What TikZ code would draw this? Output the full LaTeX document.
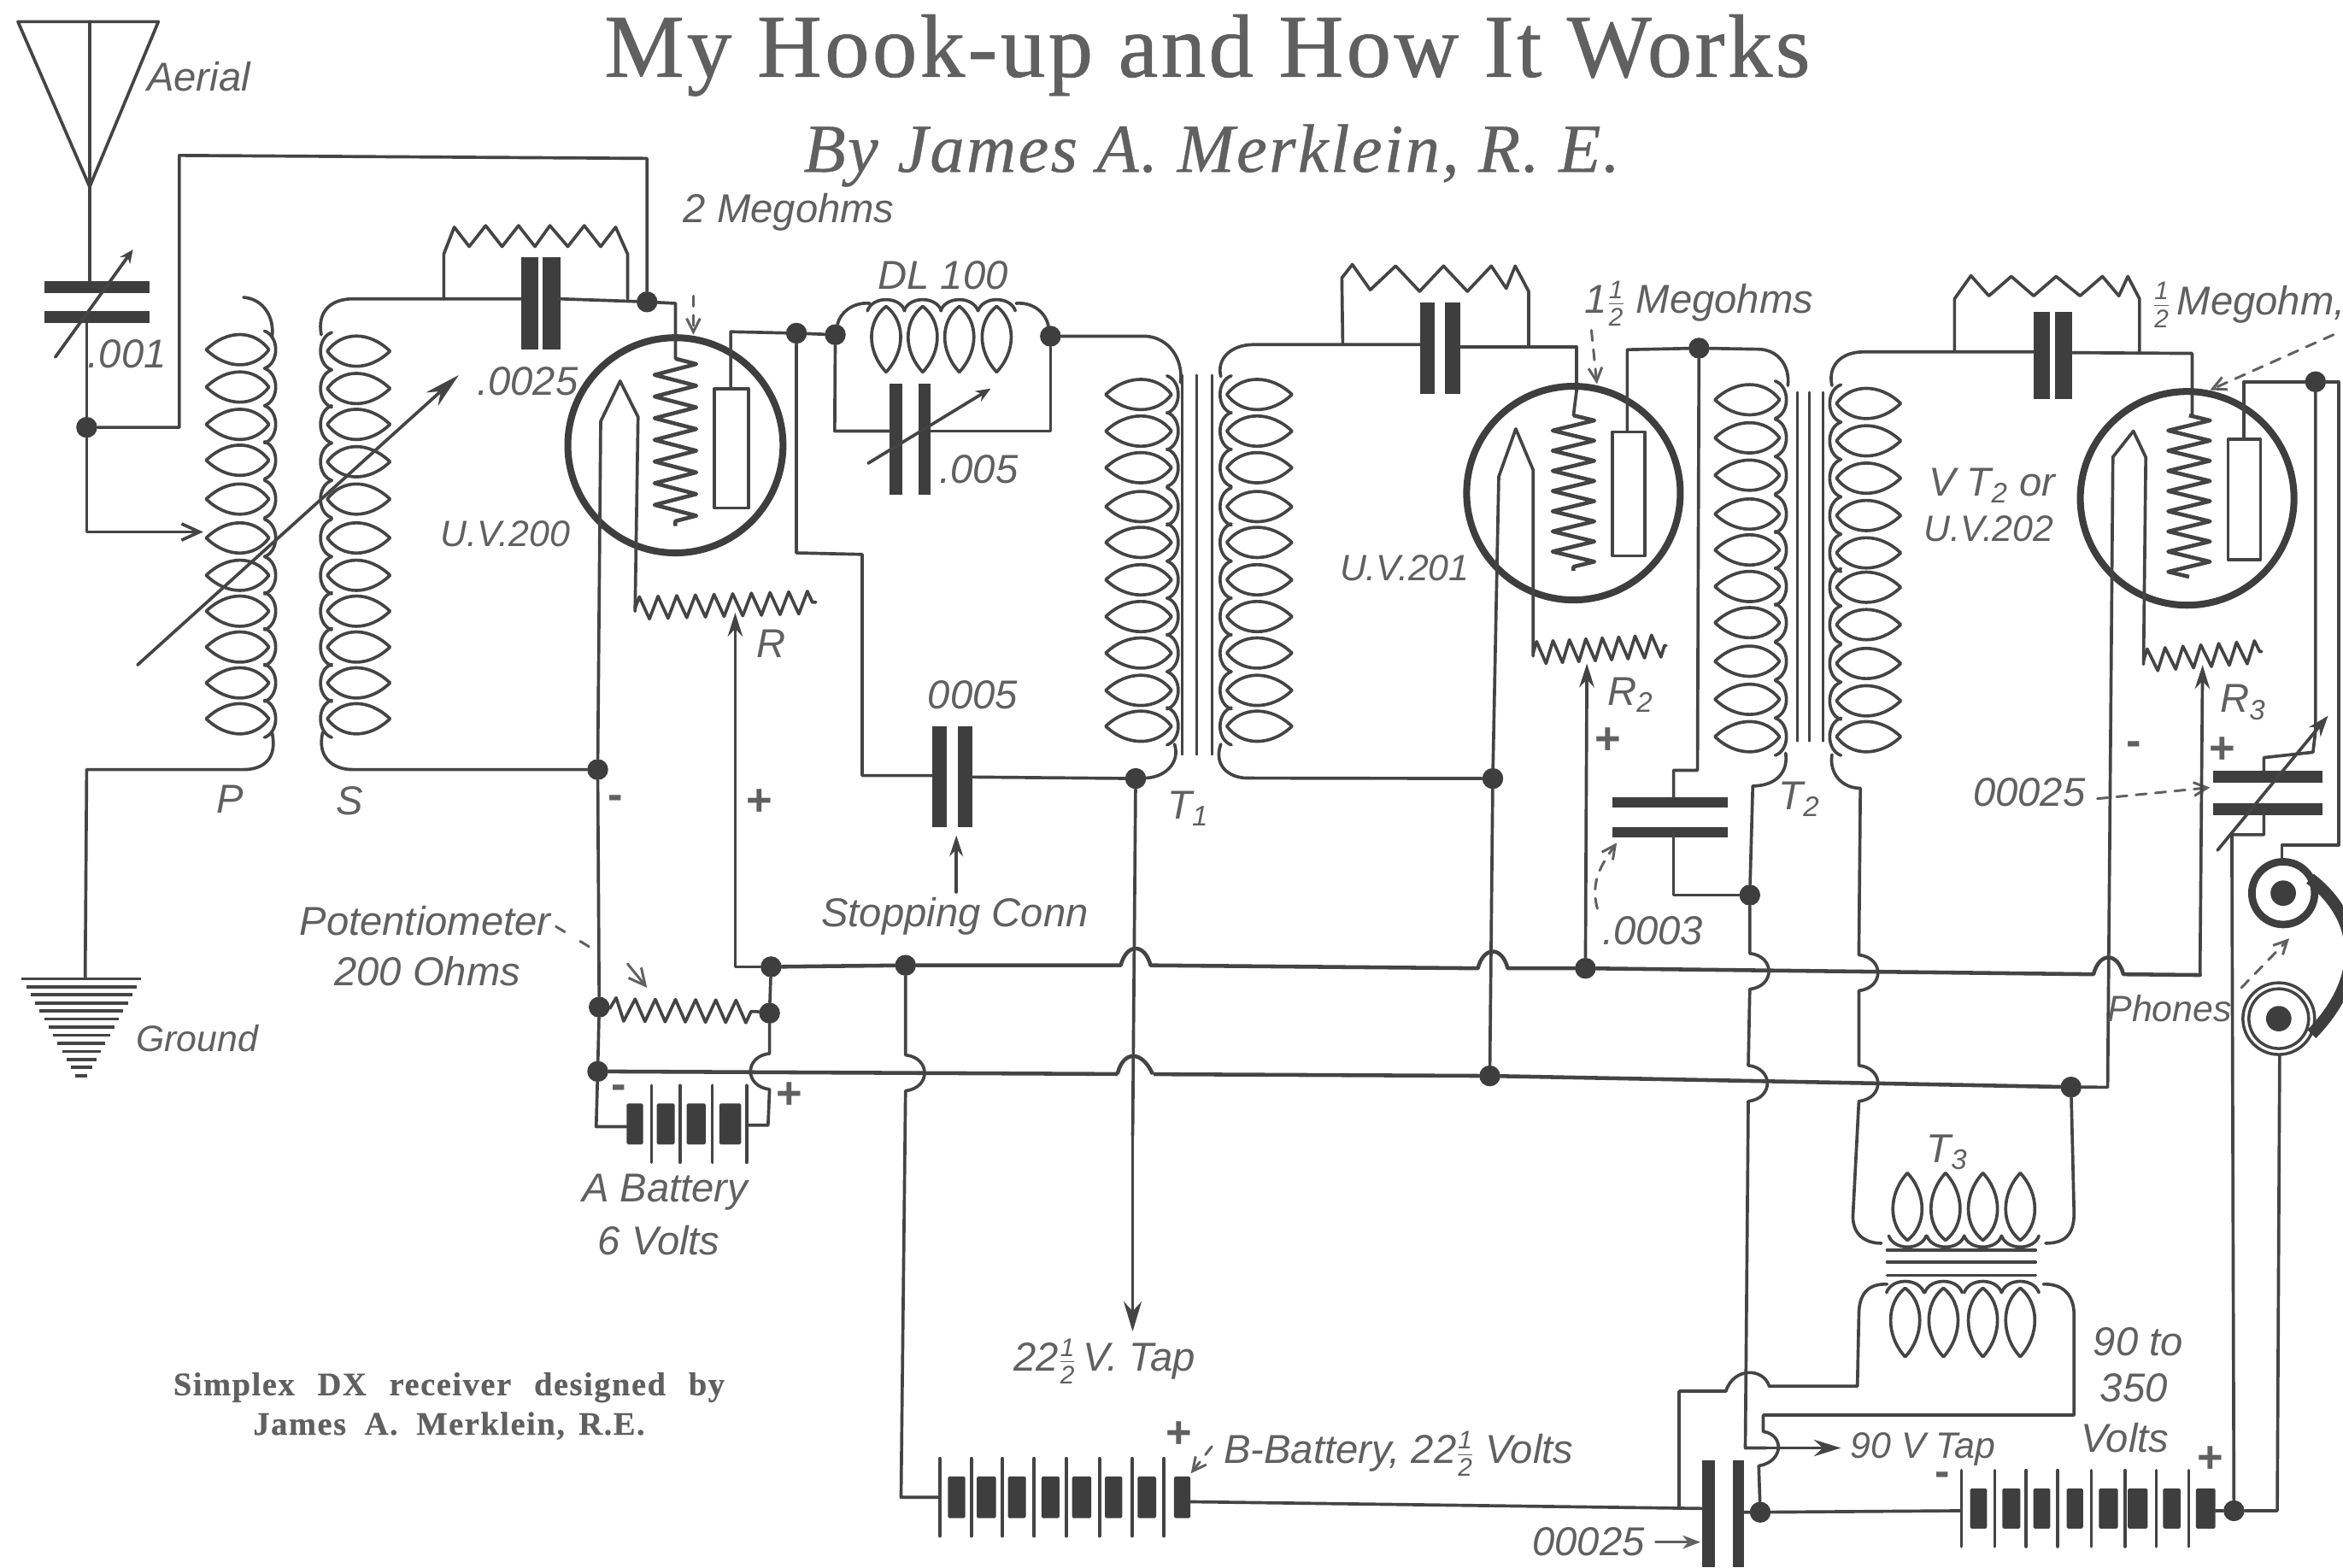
\documentclass[tikz,border=0pt]{standalone}
\usepackage{fontspec}
\usepackage{graphicx}
\setmainfont{Liberation Serif}
\newfontfamily\handfont{Liberation Sans}
\newfontfamily\titlefont[LetterSpace=3.2,FakeBold=0.7]{Liberation Serif}
\newfontfamily\bylinefont[LetterSpace=3,FakeBold=0.5]{Liberation Serif}
\newfontfamily\capfont[LetterSpace=4,FakeBold=0.4]{Liberation Serif}
\usetikzlibrary{arrows.meta,decorations.pathmorphing,calc}
\definecolor{ink}{HTML}{444444}
\definecolor{txt}{HTML}{606060}
\definecolor{dark}{HTML}{3E3E3E}
% half fraction in the hand lettering
\newcommand{\hf}{\ensuremath{\frac{\mbox{\fontsize{17}{17}\selectfont\handfont\itshape 1}}{\mbox{\fontsize{17}{17}\selectfont\handfont\itshape 2}}}}
% coil of lens-shaped turns, #1 x of tips, #2 x of scallop side, #3 list of y
\newcommand{\vturns}[3]{%
  \pgfmathsetmacro{\sgn}{(#2>#1)?1:-1}%
  \foreach \yy in {#3}{%
    \draw[wire] (#1,\yy) .. controls ({#1+14*\sgn},{\yy-13.5}) and ({#2-10*\sgn},{\yy-13.5}) .. (#2,\yy)
       .. controls ({#2-10*\sgn},{\yy+13.5}) and ({#1+14*\sgn},{\yy+13.5}) .. (#1,\yy);
    \draw[wire] ({#2-3*\sgn},{\yy-12.5}) .. controls ({#2+7*\sgn},{\yy-9}) and ({#2+7*\sgn},{\yy+9}) .. ({#2-3*\sgn},{\yy+12.5});
  }}
% horizontal variant, #1 y of tips, #2 y of scallop side, #3 list of x
\newcommand{\hturns}[3]{%
  \pgfmathsetmacro{\sgn}{(#2>#1)?1:-1}%
  \foreach \xx in {#3}{%
    \draw[wire] (\xx,#1) .. controls ({\xx-13},{#1+14*\sgn}) and ({\xx-13},{#2-10*\sgn}) .. (\xx,#2)
       .. controls ({\xx+13},{#2-10*\sgn}) and ({\xx+13},{#1+14*\sgn}) .. (\xx,#1);
    \draw[wire] ({\xx-12.5},{#2-3*\sgn}) .. controls ({\xx-9},{#2+7*\sgn}) and ({\xx+9},{#2+7*\sgn}) .. ({\xx+12.5},{#2-3*\sgn});
  }}
% hops used inside paths
\newcommand{\hopU}[2]{-- ({#1-10},{#2}) .. controls ({#1-6},{#2-15}) and ({#1+6},{#2-15}) .. ({#1+10},{#2})}
\newcommand{\hopR}[2]{-- (#1,{#2-12}) .. controls ({#1+17},{#2-10}) and ({#1+17},{#2+10}) .. (#1,{#2+12})}
\newcommand{\hopL}[2]{-- (#1,{#2-12}) .. controls ({#1-17},{#2-10}) and ({#1-17},{#2+10}) .. (#1,{#2+12})}
% battery: long lines and blocks
\newcommand{\cells}[4]{%
  \foreach \xa/\xb in {#4}{\fill[dark,rounded corners=1] (\xa,#1) rectangle (\xb,#2);}%
  \foreach \xa in {#3}{\draw[wire] (\xa,{#1-12}) -- (\xa,{#2+12});}}
\tikzset{
  wire/.style={draw=ink,line width=2.1,line join=round,line cap=round},
  rail/.style={draw=ink,line width=2.6,line join=round,line cap=round},
  fine/.style={draw=txt,line width=1.7,line cap=round},
  tube/.style={draw=dark,line width=4.6},
  plate/.style={fill=dark,draw=none},
  jdot/.style={circle,fill=dark,draw=none,inner sep=0,minimum size=14},
  hand/.style={font=\fontsize{27}{30}\selectfont\handfont\itshape,text=txt,inner sep=0,align=center},
  hands/.style={hand,font=\fontsize{24.5}{30}\selectfont\handfont\itshape},
  sym/.style={font=\fontsize{30}{30}\selectfont\handfont\bfseries,text=txt,inner sep=0},
  zz/.style={wire,decorate,decoration={zigzag,segment length=#1,amplitude=7.5}},
  gridzz/.style={draw=ink,line width=2.6,line join=round,decorate,decoration={zigzag,segment length=#1,amplitude=14}},
  dasharrow/.style={fine,dashed,dash pattern=on 7 off 6,-{Straight Barb[length=9,width=9]}},
  dashplain/.style={fine,dashed,dash pattern=on 7 off 12},
  tipa/.style={wire,-{Stealth[length=16,width=10]}},
}
\begin{document}
\begin{tikzpicture}[x=1pt,y=-1pt]
\useasboundingbox (0,0) rectangle (1568,1049);
\fill[white] (0,0) rectangle (1568,1049);

% titles
\node[text=txt,inner sep=0,font=\fontsize{60}{62}\titlefont] (title) at (808,37) {My Hook-up and How It Works};
\node[text=txt,inner sep=0,font=\fontsize{46}{48}\bylinefont\itshape] (byline) at (811,104) {By James A. Merklein, R. E.};
\node[text=txt,inner sep=0,align=center,font=\fontsize{22}{26.5}\capfont\bfseries] (caption) at (300.5,941) {Simplex\hspace{9pt} DX\hspace{9pt} receiver\hspace{9pt} designed\hspace{9pt} by\\[0pt]James\hspace{6pt} A.\hspace{6pt} Merklein,\hspace{3pt} R.E.};

% junction dots
\node[jdot] (jA) at (58,286) {};
\node[jdot] (jG) at (433,202) {};
\node[jdot] (jS) at (400,515) {};
\node[jdot] (jPa) at (401,674) {};
\node[jdot] (jPb) at (515,678) {};
\node[jdot] (jPc) at (400,717) {};
\node[jdot] (jRail) at (516,647) {};
\node[jdot] (jSup) at (606,646) {};
\node[jdot] (jB1) at (533,223) {};
\node[jdot] (jB2) at (559,224) {};
\node[jdot] (jB3) at (703,225) {};
\node[jdot] (jT1) at (760,521) {};
\node[jdot] (jT1b) at (999,521) {};
\node[jdot] (jLow) at (997,720) {};
\node[jdot] (jR2) at (1061,648) {};
\node[jdot] (jB4) at (1137,233) {};
\node[jdot] (jT2) at (1171,599) {};
\node[jdot] (jT3) at (1386,727.5) {};
\node[jdot] (jB5) at (1549.6,255.5) {};
\node[jdot] (jBat) at (1495,1011) {};
\node[jdot] (jCap) at (1178,1012) {};

% aerial
\coordinate (apex) at (60,125);
\draw[wire] (12,14.5) -- (106,14.5) -- (apex) -- cycle;
\draw[wire] (60,14.5) -- (apex) -- (60,192);
\fill[plate] (30,188) rectangle (100,196);
\fill[plate] (30,208) rectangle (100,216);
\draw[wire] (58,216) -- (jA);
\draw[wire,-{Stealth[length=9,width=8]}] (37,239) -- (89,167);
\draw[wire] (jA) -- (120,286) -- (120,104) -- (433,106) -- (jG);
\draw[wire,-{Straight Barb[length=12,width=11]}] (jA) -- (58,356) -- (136,356);

% P and S coils
\vturns{138}{180}{234,259,284,308,334,360,385,409,433,457,481}
\vturns{261}{219}{235,260,284,309,334,360,385,409,433,457,481}
\draw[wire] (163,199) .. controls (176,200) and (184,212) .. (182,226);
\draw[wire] (182,490) .. controls (186,508) and (176,515) .. (163,515) -- (58,515) -- (57,655);
\draw[wire] (215,224) .. controls (212,208) and (222,200) .. (236,200) -- (349,200);
\draw[wire] (216,490) .. controls (212,506) and (222,515) .. (236,515) -- (jS);
\draw[wire,-{Stealth[length=24,width=12]}] (92,445) -- (307,251);

% ground
\foreach \i in {0,...,12}{
  \pgfmathsetmacro{\gy}{655+\i*5.4}
  \pgfmathsetmacro{\gw}{40-\i*3}
  \draw[fine,draw=ink,line width=2.1,line cap=butt] ({54.5-\gw},\gy) -- ({54.5+\gw},\gy);
}

% grid leak + capacitor of first tube
\fill[plate] (349,172) rectangle (360,234);
\fill[plate] (363,172) rectangle (375,234);
\draw[wire] (375,200) -- (jG);
\draw[wire] (297,200) -- (297,170) -- (304,152) -- (314,165) -- (325,151) -- (336,165) -- (347,151) -- (358,165) -- (368,151) -- (380,165) -- (391,151) -- (402,165) -- (412,152) -- (420,170) -- (420,200);

% tube 1
\node[circle,tube,inner sep=0,minimum size=144] (tube1) at (452,298) {};
\draw[wire] (jG) -- (452,203) -- (452,240);
\draw[dasharrow] (464,198) -- (464,224);
\draw[gridzz=14.5] (452,240) -- (452,352);
\draw[wire] (jS) -- (402,282) -- (415,255) -- (427,279) -- (425,409);
\draw[zz=12.5] (425,407) -- (546,403);
\draw[wire,fill=white] (478,260) rectangle (501,340);
\draw[wire] (489,260) -- (489,222) -- (jB1);
\draw[wire] (jB1) -- (jB2);
\draw[tipa] (jRail) -- (492,647) -- (492,410);

% DL 100 coil and variable capacitor
\hturns{249}{205}{593,617.5,642,667}
\draw[wire] (jB2) .. controls (562,210) and (570,202) .. (582,203);
\draw[wire] (jB3) .. controls (700,210) and (692,202) .. (680,203);
\draw[wire] (jB2) -- (558.6,288.5) -- (595,288.5);
\draw[wire] (623,288.5) -- (703,288.5) -- (jB3);
\fill[plate] (595,257) rectangle (604,331);
\fill[plate] (614.5,257) rectangle (623,331);
\draw[wire,-{Stealth[length=10,width=8]}] (581,310) -- (663,260);

% stopping condenser path
\draw[wire] (jB1) -- (533,370) -- (577,371) -- (577,519) -- (624,519);
\fill[plate] (624,486) rectangle (633.5,553.6);
\fill[plate] (641,486) rectangle (650.5,553.6);
\draw[wire] (650.5,520) -- (jT1);
\draw[wire,-{Stealth[length=14,width=9]}] (640,597) -- (640,559);

% T1
\draw[wire] (jB3) -- (767,225) .. controls (782,226) and (792,240) .. (790,256);
\vturns{740}{784}{264,288.5,313,339,363,388,412.6,437,462,486}
\draw[wire] (786,498) .. controls (790,510) and (780,520) .. (jT1);
\foreach \xc in {791,801,811}{\draw[wire,line width=1.5] (\xc,251) -- (\xc,505);}
\vturns{864.6}{821}{264,288.5,313,339,363,388,412.6,437,462,486}
\draw[wire] (817,252) .. controls (814,240) and (824,230.6) .. (839,230.6) -- (950.6,230.6);
\draw[wire] (817,498) .. controls (812,512) and (822,520.7) .. (835,520.7) -- (jT1b);
\fill[plate] (950.6,202.5) rectangle (960,263.5);
\fill[plate] (967,202.5) rectangle (977,263.5);
\draw[wire] (977,232) -- (1055,232) -- (1055,262);
\draw[wire] (898.6,230) -- (898,186) -- (905,177) -- (917,194) -- (934,178) -- (950,195) -- (966,178) -- (982,195) -- (998,178) -- (1008,193) -- (1014,178) -- (1023,195) -- (1023,232);

% tube 2
\node[circle,tube,inner sep=0,minimum size=143] (tube2) at (1053,330) {};
\draw[gridzz=13.5] (1053,278) -- (1053,382);
\draw[wire] (1055,262) -- (1053,278);
\draw[wire] (jT1b) -- (1003,319) -- (1014.4,287) -- (1026,314.5) -- (1026,439);
\draw[zz=11] (1026,437) -- (1115,432);
\draw[wire,fill=white] (1079,289) rectangle (1100.6,372);
\draw[wire] (1089,289) -- (1089,234) -- (jB4);
\draw[wire] (jB4) -- (1177,233.7) .. controls (1190,234) and (1198,245) .. (1196.5,258);
\draw[tipa] (jR2) -- (1062,444);
\draw[dasharrow] (1065,221) -- (1068.7,257);

% T2
\vturns{1147.7}{1191}{267.5,293,318,344,368,392.5,416.7,442.5,468,493}
\draw[wire] (1195,504) .. controls (1197,518) and (1187,526) .. (1173,526) -- (jT2);
\foreach \xc in {1202.7,1211,1220}{\draw[wire,line width=1.5] (\xc,262.5) -- (\xc,496);}
\vturns{1272}{1229}{270,295,320,345,370,393,418,444,469,493}
\draw[wire] (1226,258) .. controls (1223,245) and (1232,235.5) .. (1247,235.5) -- (1360.7,235.5);
\draw[wire] (1226,505) .. controls (1224,518) and (1233,527.5) .. (1245,527.5) \hopR{1244}{651} \hopR{1244}{725} -- (1240,814) .. controls (1240,826) and (1248,832) .. (1259,832);
\draw[wire] (jB4) -- (1136,515.5) -- (1120,515.5) -- (1120,537);
\fill[plate] (1079,533.5) rectangle (1156,540.5);
\fill[plate] (1079,553.5) rectangle (1156,560.5);
\draw[wire] (1120,557) -- (1120,599) -- (jT2);
\draw[dasharrow] (1069,608) .. controls (1064,590) and (1072,578) .. (1082,564);
\draw[wire] (jT2) \hopR{1171}{650} \hopR{1170}{725} -- (1168,969) -- (1182,969);
\draw[wire,-{Stealth[length=18,width=11]}] (1182,969) -- (1232,969);

% tube 3
\fill[plate] (1360.7,208.7) rectangle (1372,267);
\fill[plate] (1375.5,208.7) rectangle (1386.5,267);
\draw[wire] (1386.5,236) -- (1467,236.5) -- (1467,278);
\draw[wire] (1308,235) -- (1308,200) -- (1319,184.5) -- (1331,198) -- (1346,185) -- (1361,198) -- (1376,185) -- (1392,198) -- (1407,185) -- (1418,198) -- (1424,185) -- (1431.8,200) -- (1431.8,236);
\node[circle,tube,inner sep=0,minimum size=143] (tube3) at (1463.7,333.5) {};
\draw[gridzz=13.5] (1465,278) -- (1465,386);
\draw[wire] (jT3) -- (1410.5,727.6) -- (1414,305.8) -- (1427.7,288.5) -- (1436,306) -- (1434.5,444.5);
\draw[zz=12] (1434.5,442) -- (1513.5,436);
\draw[wire,fill=white] (1491,294) rectangle (1512.8,374.4);
\draw[wire] (1501.5,294) -- (1501.5,255.5) -- (jB5) -- (1565,255.5) -- (1565,565.7) -- (1527,565.7) -- (1527,575);
\draw[wire] (jB5) -- (1549.6,489) -- (1547.9,503.4) -- (1515,507) -- (1515,520);
\fill[plate] (1481,516) rectangle (1554,524);
\fill[plate] (1481,537.5) rectangle (1554,545.5);
\draw[wire] (1515,541) -- (1515,558.6) -- (1493.6,558.6) -- (jBat);
\draw[wire,-{Stealth[length=14,width=10]}] (1484,569) -- (1558,479);
\draw[dasharrow] (1561.6,224) -- (1479,261);
\draw[dasharrow] (1403.6,534.5) -- (1479,527);

% rails
\draw[rail] (jRail) -- (jSup) \hopU{760}{646} \hopU{999}{648} -- (jR2) \hopU{1411}{652} -- (1472.3,652.5);
\draw[tipa] (1472.3,652.5) -- (1474,445);
\draw[rail] (jPc) -- (jLow) -- (jT3);
\fill[white] (748,704) rectangle (772,724);
\draw[rail] (748,718) .. controls (752,703) and (764,703) .. (771,718);
\draw[wire] (jT1) -- (758,760);
\draw[wire,-{Stealth[length=20,width=12]}] (758,760) -- (758,891);
\draw[wire] (jT1b) -- (jLow);
\draw[wire] (jS) -- (jPa) -- (jPc) -- (399,754) -- (419.4,754);
\draw[wire] (jRail) -- (jPb) \hopL{515}{717} -- (514,753) -- (499.6,753);
\draw[wire] (jSup) \hopR{606}{718} -- (603,1002) -- (629,1002);

% potentiometer
\draw[zz=13.5] (jPa) -- (419,676) -- (507,677);
\draw[wire] (507,677) -- (jPb);
\draw[dashplain] (372,620) -- (395,634);
\draw[fine,-{Straight Barb[length=11,width=11]}] (420,645) -- (433,661);

% A battery
\cells{738.4}{765.9}{436,455,476.7,499.6}{419.4/430.4,439.5/451.5,459.5/472.3,481.4/496}

% B battery 22.5 V
\cells{988}{1016}{629,650,670.8,692,713.5,735.8,757.6,779}{634.4/646,653.7/666.5,674.5/686.5,697/709,717.5/730.3,739.4/751,761.3/773.7,785.7/796.7}
\draw[wire] (796.7,1005) -- (1139,1009.5);
\fill[plate] (1139,977) rectangle (1147.7,1049);
\fill[plate] (1159.7,977) rectangle (1167.3,1049);
\draw[wire] (1167.3,1012) -- (jCap) -- (1312.6,1011);
\draw[fine,-{Stealth[length=12,width=9]}] (1108,1032) -- (1138,1032);
\draw[dasharrow] (811,968) -- (797,986);

% big battery
\cells{996}{1023}{1312.6,1334.9,1356,1377,1399.5,1422,1443,1464.8}{1318.4/1329.8,1340/1352,1360.7/1372,1383/1394,1404.7/1417.4,1424/1437.3,1447.6/1459.3,1469.5/1482.6}
\draw[wire] (1482.6,1011) -- (jBat) -- (1524,1011) -- (1525.6,706);

% T3
\hturns{785}{830}{1276.5,1302,1327,1352}
\hturns{908}{862}{1275,1300.6,1327,1352}
\draw[wire] (1369,832) .. controls (1382,832) and (1388,826) .. (1388,812) -- (jT3);
\foreach \yc in {836.6,844.6,853.5}{\draw[wire,line width=1.8] (1262.8,\yc) -- (1362.4,\yc);}
\draw[wire] (1262.8,859.4) .. controls (1250,859) and (1244,866) .. (1244,880) -- (1243,927.7) -- (1184,927.7) .. controls (1180,915) and (1160,915) .. (1155,931) -- (1123.7,931) -- (1123.7,1008);
\draw[wire] (1367.5,859.4) .. controls (1380,859) and (1388,866) .. (1388,880) -- (1388,947) -- (1180,947) -- (1180,958) .. controls (1194,960) and (1194,978) .. (1177,981) -- (jCap);

% phones
\draw[dark,line width=5] (1528,597.7) circle (21);
\fill[dark] (1528,597.7) circle (8.5);
\draw[ink,line width=2] (1525,681.7) circle (24);
\draw[ink,line width=2] (1525,681.7) circle (20);
\fill[dark] (1525,681.7) circle (8.5);
\draw[dark,line width=8] (1546,588) .. controls (1582,616) and (1582,656) .. (1547,692);
\draw[dasharrow] (1500,661) -- (1532,628);

% labels
\node[hand] (lAerial) at (133,51) {Aerial};
\node[hand] (l001) at (85,237) {.001};
\node[hand] (l0025) at (353,255) {.0025};
\node[hands] (lUV200) at (338,357) {U.V.200};
\node[hand] (l2M) at (528,142) {2 Megohms};
\node[hand] (lR) at (516,431) {R};
\node[hand] (lP) at (154,535) {P};
\node[hand] (lS) at (234,536) {S};
\node[sym] (lMin1) at (412,537) {-};
\node[sym] (lPl1) at (508,537) {+};
\node[hand] (lPot) at (284.5,616) {Potentiometer};
\node[hand] (l200) at (286,650) {200 Ohms};
\node[hands] (lGround) at (132,695) {Ground};
\node[sym] (lMin2) at (414,731) {-};
\node[sym] (lPl2) at (528,733) {+};
\node[hand] (lAB) at (445,798) {A Battery};
\node[hand] (l6V) at (441,830) {6 Volts};
\node[hand] (lDL) at (631,184) {DL 100};
\node[hand] (l005) at (655,314) {.005};
\node[hand] (l0005) at (651,465) {0005};
\node[hand] (lStop) at (639,613) {Stopping Conn};
\node[hand] (lT1) at (795,541) {T\textsubscript{1}};
\node[hands] (lUV201) at (940,380) {U.V.201};
\node[hand] (lM15) at (1137,203) {1\hf\ Megohms};
\node[hand] (lR2) at (1091,465) {R\textsubscript{2}};
\node[sym] (lPl3) at (1076,496) {+};
\node[hand] (l0003) at (1106,623) {.0003};
\node[hand] (lT2) at (1204,535) {T\textsubscript{2}};
\node[hand] (lVT) at (1333,325) {V T\textsubscript{2} or};
\node[hands] (lUV202) at (1331,354) {U.V.202};
\node[hand] (lM05) at (1505,204) {\hf\,Megohm,};
\node[hand] (lR3) at (1501,470) {R\textsubscript{3}};
\node[sym] (lMin3) at (1428,501) {-};
\node[sym] (lPl4) at (1487,502) {+};
\node[hand] (l00025a) at (1358,530) {00025};
\node[hands] (lPhones) at (1452,675) {Phones};
\node[hand] (lT3) at (1303,771) {T\textsubscript{3}};
\node[hand] (l90) at (1431,898) {90 to};
\node[hand] (l350) at (1428,929) {350};
\node[hand] (lVolts) at (1422,962) {Volts};
\node[hands] (l90V) at (1287,970) {90 V Tap};
\node[sym] (lPl5) at (1479,977) {+};
\node[sym] (lMin4) at (1300,990) {-};
\node[hand] (l22T) at (739,911) {22\hf\,V. Tap};
\node[sym] (lPl6) at (789,960) {+};
\node[hand] (lBB) at (936,973) {B-Battery, 22\hf\ Volts};
\node[hand] (l00025b) at (1063,1032) {00025};
\end{tikzpicture}
\end{document}
